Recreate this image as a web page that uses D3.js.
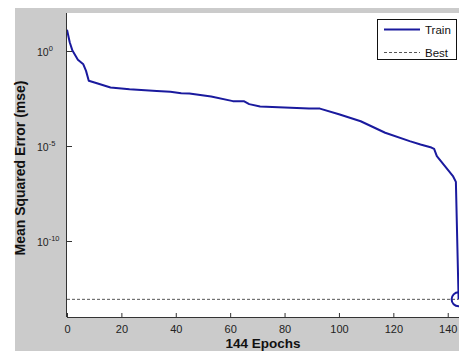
<!DOCTYPE html>
<html>
<head>
<meta charset="utf-8">
<script src="https://cdn.jsdelivr.net/npm/d3@7"></script>
<style>
  html, body { margin: 0; padding: 0; background: #fff; }
  svg { display: block; font-family: "Liberation Sans", Arial, sans-serif; }
</style>
</head>
<body>
<div id="chart"></div>
<script>
// training record
const epochs = [0, 1, 2, 4, 6, 7, 8, 11, 16, 23, 33, 38, 42, 45, 53, 61, 65, 67, 71, 80, 89, 93, 100, 108, 117, 126, 130, 134, 135, 136, 142, 143, 144];
const trainMse = [13, 2.9, 1.05, 0.35, 0.2, 0.09, 0.027, 0.02, 0.012, 0.0098, 0.0079, 0.0071, 0.006, 0.0058, 0.004, 0.0023, 0.0023, 0.0016, 0.0012, 0.00105, 0.00093, 0.00093, 0.00047, 0.0002, 5e-5, 1.8e-5, 1.2e-5, 8.3e-6, 7e-6, 2.9e-6, 2.5e-7, 1.3e-7, 8.5e-14];
const bestEpoch = 144;
const bestMse = 8.5e-14;

const xTicks = [0, 20, 40, 60, 80, 100, 120, 140];
const yTicks = [1e0, 1e-5, 1e-10];
const yTickExp = ["0", "-5", "-10"];
const legendLabels = ["Train", "Best"];

const width = 459, height = 351;
const margin = { top: 13, right: 0.4, bottom: 34, left: 67 };
const lineColor = "#1a1a9e";

const svg = d3.select("#chart").append("svg")
  .attr("width", width)
  .attr("height", height);

// figure background
svg.append("rect")
  .attr("x", 15).attr("y", 8)
  .attr("width", width - 15).attr("height", height - 8)
  .attr("fill", "#cbcbcb");

const x = d3.scaleLinear()
  .domain([0, 144])
  .range([margin.left, width - margin.right]);
const y = d3.scaleLog()
  .domain([1e-14, 1e2])
  .range([height - margin.bottom, margin.top]);

svg.append("rect")
  .attr("x", margin.left).attr("y", margin.top)
  .attr("width", width - margin.left).attr("height", height - margin.bottom - margin.top)
  .attr("fill", "#fff");

// best line
svg.append("line")
  .attr("x1", x(0)).attr("x2", x(bestEpoch))
  .attr("y1", y(bestMse)).attr("y2", y(bestMse))
  .attr("stroke", "#555")
  .attr("stroke-width", 1)
  .attr("stroke-dasharray", "3,2");

// train curve
const line = d3.line()
  .x((d, i) => x(epochs[i]))
  .y((d) => y(d));
svg.append("path")
  .datum(trainMse)
  .attr("d", line)
  .attr("fill", "none")
  .attr("stroke", lineColor)
  .attr("stroke-width", 2)
  .attr("stroke-linejoin", "round");

svg.append("circle")
  .attr("cx", x(bestEpoch))
  .attr("cy", y(bestMse))
  .attr("r", 7)
  .attr("fill", "none")
  .attr("stroke", lineColor)
  .attr("stroke-width", 2);

// axes
const gX = svg.append("g")
  .attr("transform", `translate(0,${height - margin.bottom})`)
  .call(d3.axisBottom(x).tickValues(xTicks).tickSize(-4).tickPadding(8).tickSizeOuter(0))
  .call((g) => g.select(".domain").attr("d", `M${margin.left},0.5H${width}`))
  .call((g) => g.selectAll("text").attr("font-size", 11).attr("fill", "#222").attr("font-family", null));

const gY = svg.append("g")
  .attr("transform", `translate(${margin.left},0)`)
  .call(d3.axisLeft(y).tickValues(yTicks).tickSize(-5).tickSizeOuter(0).tickFormat(() => "10"))
  .call((g) => g.select(".domain").attr("d", `M-0.5,${margin.top}V${height - margin.bottom}`))
  .call((g) =>
    g.selectAll(".tick text")
      .attr("font-size", 10.5)
      .attr("fill", "#222")
      .attr("font-family", null)
      .attr("text-anchor", "start")
      .attr("x", -30)
      .attr("dy", "0.38em")
      .each(function (d, i) {
        d3.select(this).append("tspan")
          .attr("font-size", 7.5)
          .attr("dy", -5)
          .text(yTickExp[i]);
      })
  );

svg.selectAll(".domain, .tick line").attr("stroke", "#333");

// axis titles
svg.append("text")
  .attr("x", (margin.left + width) / 2)
  .attr("y", 348)
  .attr("text-anchor", "middle")
  .attr("font-weight", "bold")
  .attr("font-size", 13.5)
  .attr("fill", "#111")
  .text("144 Epochs");

svg.append("text")
  .attr("transform", "translate(25,168) rotate(-90)")
  .attr("text-anchor", "middle")
  .attr("font-weight", "bold")
  .attr("font-size", 14)
  .attr("fill", "#111")
  .text("Mean Squared Error  (mse)");

// legend
const legend = svg.append("g").attr("transform", "translate(377,19)");
legend.append("rect")
  .attr("x", 0.5).attr("y", 0.5)
  .attr("width", 79).attr("height", 40)
  .attr("fill", "#fff")
  .attr("stroke", "#111");
const rows = legend.selectAll(".row")
  .data(legendLabels)
  .join("g")
  .attr("class", "row")
  .attr("transform", (d, i) => `translate(0,${i === 0 ? 10.5 : 33.5})`);
rows.append("line")
  .attr("x1", 7).attr("x2", 43)
  .attr("stroke", (d, i) => (i === 0 ? lineColor : "#555"))
  .attr("stroke-width", (d, i) => (i === 0 ? 2 : 1))
  .attr("stroke-dasharray", (d, i) => (i === 0 ? null : "3,2"));
rows.append("text")
  .attr("x", 48)
  .attr("dy", "0.35em")
  .attr("font-size", 11.5)
  .attr("fill", "#111")
  .text((d) => d);
</script>
</body>
</html>
